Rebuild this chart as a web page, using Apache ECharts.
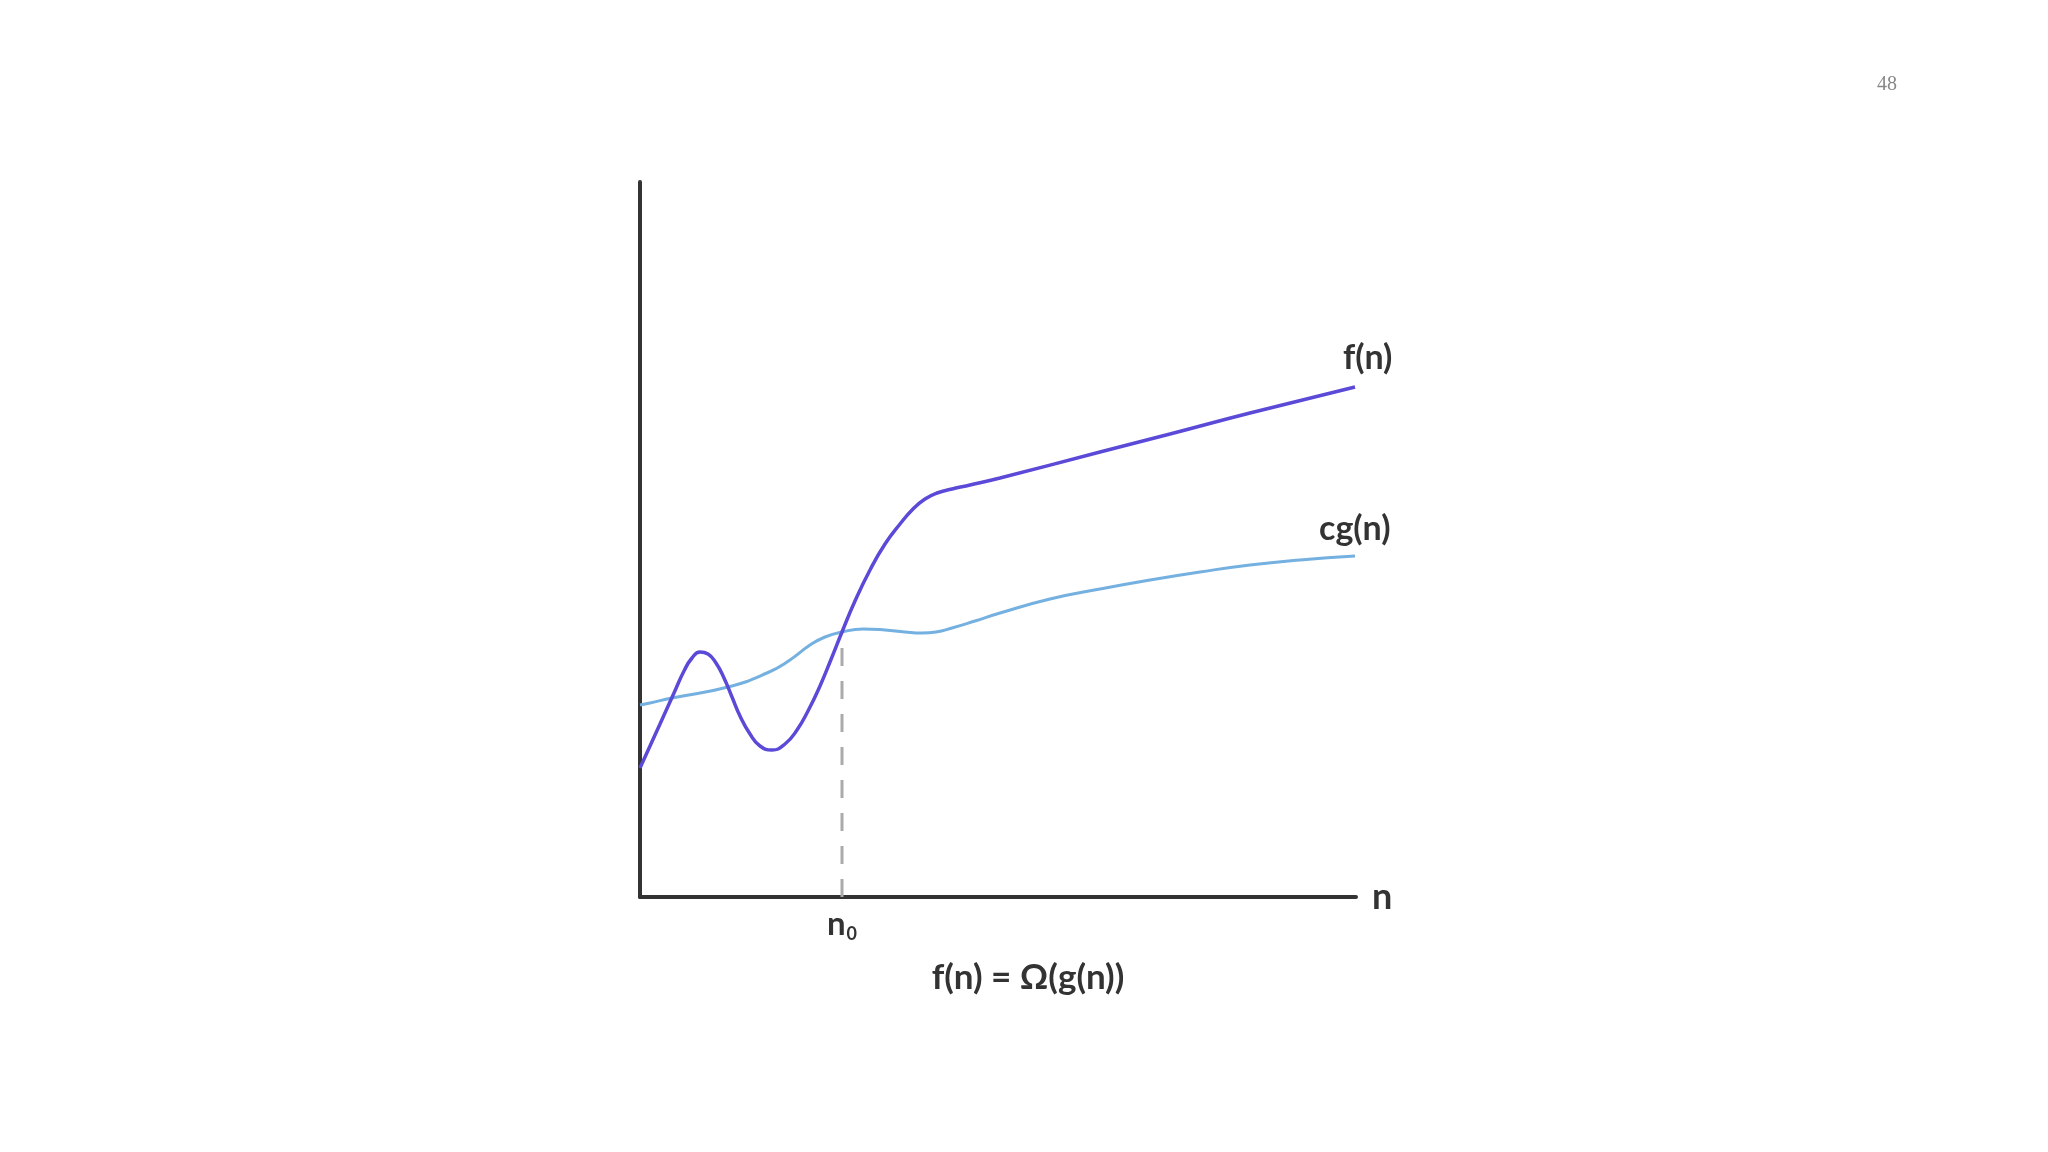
<!DOCTYPE html>
<html>
<head>
<meta charset="utf-8">
<script src="https://cdn.jsdelivr.net/npm/echarts@6/dist/echarts.min.js"></script>
<style>html,body{margin:0;padding:0;background:#fff;}#c{width:2048px;height:1152px;}</style>
</head>
<body>
<div id="c"></div>
<script>
// f(n) curve points [n, value]
var fPoints = [[0,129],[20,173],[34,204],[44,226],[52,239],[60,245],[68,243],[76,234],[84,219],[92,200],[100,181],[110,163],[120,151],[132,147],[145,153],[157,167],[168,186],[180,211],[192,240],[202,265],[215,296],[230,327],[245,353],[260,373],[273,388],[285,398],[297,404],[312,408],[330,412],[360,419],[460,445],[530,463],[610,484],[715,510]];
// c*g(n) curve points
var gPoints = [[0,192],[10,194],[32,199],[88,210],[127,224],[150,237],[170,252],[185,260],[202,265],[223,268],[245,267],[265,265],[282,264],[296,265],[312,269],[335,276],[360,284],[410,298],[460,308],[510,317],[560,325],[610,332],[660,337],[715,341]];
var n0 = 202;
var n0Value = 265;
var xMax = 716, yMax = 715;
var labels = { f: 'f(n)', g: 'cg(n)', x: 'n', formula: 'f(n) = Ω(g(n))', page: '48' };

var chart = echarts.init(document.getElementById('c'));
var font = 'Lato, "Open Sans", sans-serif';
chart.setOption({
  backgroundColor: '#fff',
  animation: false,
  title: [
    { text: labels.formula, left: 1023, top: 955, textAlign: 'center',
      textStyle: { fontFamily: font, fontWeight: 'bold', fontSize: 35, color: '#333' } },
    { text: labels.page, left: 1882, top: 70, textAlign: 'center',
      textStyle: { fontFamily: '"Liberation Serif", "DejaVu Serif", serif', fontWeight: 'normal', fontSize: 20, color: '#888' } }
  ],
  grid: { left: 640, top: 182, width: 716, height: 715 },
  xAxis: {
    type: 'value', min: 0, max: xMax,
    name: labels.x, nameLocation: 'end', nameGap: 16,
    nameTextStyle: { fontFamily: font, fontWeight: 'bold', fontSize: 36, color: '#333', verticalAlign: 'middle', padding: [0,0,6,0] },
    axisLine: { show: true, lineStyle: { color: '#333', width: 4 } },
    axisTick: { show: false },
    splitLine: { show: false },
    axisLabel: {
      customValues: [n0], margin: 12,
      formatter: function () { return '{n|n}{s|0}'; },
      rich: {
        n: { fontFamily: font, fontWeight: 'bold', fontSize: 33, color: '#333', verticalAlign: 'bottom', lineHeight: 32 },
        s: { fontFamily: font, fontWeight: 'bold', fontSize: 18, color: '#333', verticalAlign: 'bottom', lineHeight: 32, padding: [0,0,-2,1] }
      }
    }
  },
  yAxis: {
    type: 'value', min: 0, max: yMax,
    axisLine: { show: true, lineStyle: { color: '#333', width: 4 } },
    axisTick: { show: false }, axisLabel: { show: false }, splitLine: { show: false }
  },
  series: [
    { type: 'line', name: 'n0', data: [[n0, 0], [n0, n0Value]], symbol: 'none', z: 1,
      lineStyle: { color: '#aaa', width: 3, type: [18, 15] } },
    { type: 'line', name: 'cg(n)', data: gPoints, smooth: 0.5, symbol: 'none', z: 2,
      lineStyle: { color: '#74b0e0', width: 3 },
      endLabel: { show: true, formatter: labels.g, distance: 0, offset: [-36, -27],
        fontFamily: font, fontWeight: 'bold', fontSize: 34, color: '#333' } },
    { type: 'line', name: 'f(n)', data: fPoints, smooth: 0.5, symbol: 'none', z: 3,
      lineStyle: { color: '#5b49d8', width: 3.5 },
      endLabel: { show: true, formatter: labels.f, distance: 0, offset: [-12, -29],
        fontFamily: font, fontWeight: 'bold', fontSize: 34, color: '#333' } }
  ]
});
</script>
</body>
</html>
